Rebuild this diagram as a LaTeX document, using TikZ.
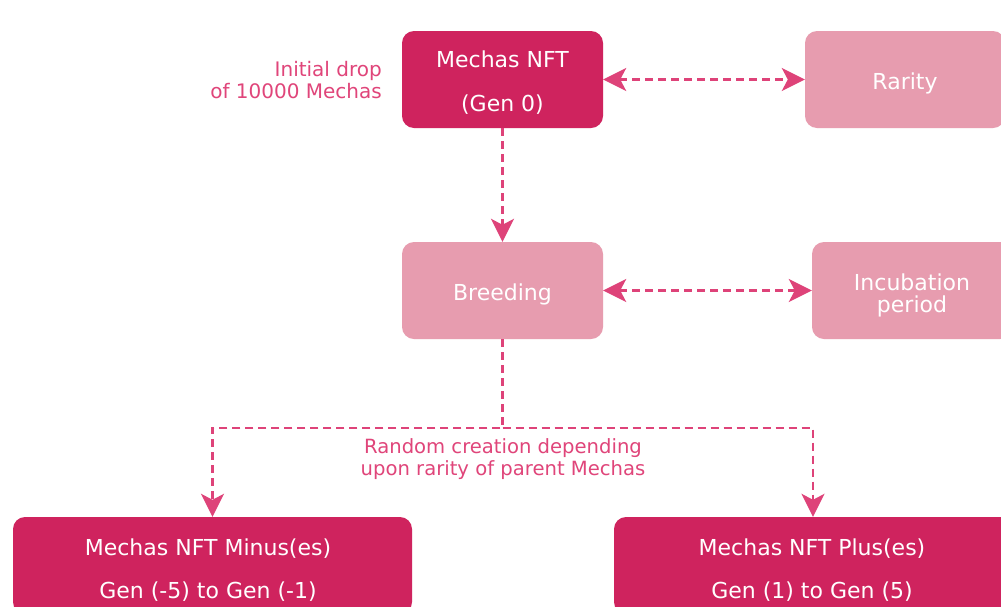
\documentclass[tikz,border=0pt]{standalone}
\usepackage{fontspec}
\setmainfont{DejaVu Sans}
\usetikzlibrary{arrows.meta}
\definecolor{darkbox}{HTML}{CF235E}
\definecolor{lightbox}{HTML}{E79CAF}
\definecolor{arrowc}{HTML}{DE4379}
\definecolor{sidetext}{HTML}{E0457A}
\tikzset{
  tipstyle/.tip={Stealth[length=23pt, width=23pt, inset=6pt]},
  boxbase/.style={rectangle, rounded corners=12pt, inner sep=0pt, text=white, align=center,
    minimum height=97pt, font=\fontsize{22}{23}\selectfont},
  darkstyle/.style={boxbase, fill=darkbox},
  lightstyle/.style={boxbase, fill=lightbox},
  conn/.style={draw=arrowc, line width=2.4pt, dash pattern=on 8pt off 5pt, -tipstyle},
  bothconn/.style={conn, tipstyle-tipstyle},
  sidelabel/.style={text=sidetext, font=\fontsize{20}{22}\selectfont, inner sep=0pt}
}
\begin{document}
\begin{tikzpicture}[x=1pt, y=-1pt]
\useasboundingbox (0,0) rectangle (1001,606);
\clip (0,0) rectangle (1001,606);
\fill[white] (0,0) rectangle (1001,606);

\node[darkstyle, minimum width=201pt] (mechas) at (502.5,79.5) {};
\node[text=white, font=\fontsize{22}{44}\selectfont, align=center] (mechastext) at (502.5,83) {Mechas NFT\\(Gen 0)};
\node[lightstyle, minimum width=200pt] (rarity) at (905,79.5) {};
\node[text=white, font=\fontsize{22}{23}\selectfont] (raritytext) at (905,83) {Rarity};
\node[lightstyle, minimum width=201pt] (breeding) at (502.5,290.5) {};
\node[text=white, font=\fontsize{22}{23}\selectfont] (breedingtext) at (502.5,294) {Breeding};
\node[lightstyle, minimum width=200pt] (incub) at (912,290.5) {};
\node[text=white, font=\fontsize{22}{22}\selectfont, align=center] (incubtext) at (912,295) {Incubation\\period};
\node[darkstyle, minimum width=399pt] (minus) at (212.5,565.5) {};
\node[text=white, font=\fontsize{22}{43}\selectfont, align=center] (minustext) at (208,570) {Mechas NFT Minus(es)\\Gen (-5) to Gen (-1)};
\node[darkstyle, minimum width=398pt] (plus) at (813,565.5) {};
\node[text=white, font=\fontsize{22}{43}\selectfont, align=center] (plustext) at (812,570) {Mechas NFT Plus(es)\\Gen (1) to Gen (5)};

\node[sidelabel, align=right, anchor=east] (initial) at (382,80) {Initial drop\\of 10000 Mechas};
\node[sidelabel, align=center, font=\fontsize{19.6}{22}\selectfont] (random) at (503,459) {Random creation depending\\upon rarity of parent Mechas};

\coordinate (split) at (502.5,428);
\draw[bothconn] (mechas.east) -- (rarity.west);
\draw[conn] (mechas.south) -- (breeding.north);
\draw[bothconn] (breeding.east) -- (incub.west);
\draw[conn] (breeding.south) -- (split) -| (minus.north);
\draw[conn] (split) -| (plus.north);
\end{tikzpicture}
\end{document}
